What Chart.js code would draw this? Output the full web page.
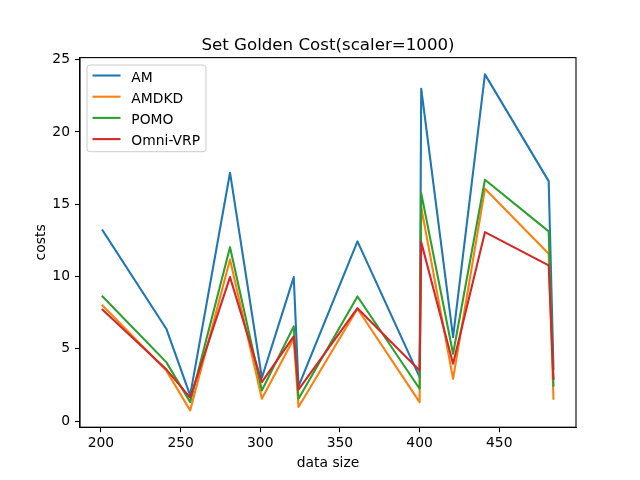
<!DOCTYPE html>
<html>
<head>
<meta charset="utf-8">
<script src="https://cdn.jsdelivr.net/npm/chart.js@4"></script>
<style>
  body { margin: 0; background: #fff; }
  canvas { display: block; }
</style>
</head>
<body>
<canvas id="chart" width="640" height="480"></canvas>
<script>
// data size of each Golden instance (sorted)
const sizes = [201, 241, 256, 281, 301, 321, 324, 361, 400, 401, 421, 441, 481, 484];

// costs (scaler = 1000)
const amCost    = [13.19, 6.39, 1.78, 17.18, 3.00, 9.96, 2.40, 12.43, 3.04, 22.99, 5.81, 23.98, 16.60, 3.62];
const amdkdCost = [8.00, 3.50, 0.74, 11.18, 1.55, 5.70, 0.97, 7.77, 1.31, 14.80, 2.93, 16.07, 11.58, 1.55];
const pomoCost  = [8.62, 4.08, 1.31, 12.03, 2.12, 6.55, 1.55, 8.62, 2.24, 15.77, 4.66, 16.69, 13.12, 2.47];
const omniCost  = [7.70, 3.58, 1.62, 9.96, 2.70, 5.86, 2.17, 7.81, 3.50, 12.38, 3.97, 13.07, 10.77, 2.93];

const seriesNames = ["AM", "AMDKD", "POMO", "Omni-VRP"];
const seriesColors = ["#1f77b4", "#ff7f0e", "#2ca02c", "#d62728"];
const seriesValues = [amCost, amdkdCost, pomoCost, omniCost];

const xTicks = [200, 250, 300, 350, 400, 450];
const yTicks = [0, 5, 10, 15, 20, 25];

const FONT = "DejaVu Sans";

// =======================
// AXIS LIMITS (matplotlib style 5% margin)
// =======================
function paddedRange(arr) {
    const lo = Math.min(...arr);
    const hi = Math.max(...arr);
    const m = (hi - lo) * 0.05;
    return [lo - m, hi + m];
}

const xRange = paddedRange(sizes);
const yRange = paddedRange([].concat(...seriesValues));

// =======================
// DATASETS
// =======================
const datasets = seriesNames.map((name, i) => ({
    label: name,
    data: sizes.map((s, k) => ({ x: s, y: seriesValues[i][k] })),
    borderColor: seriesColors[i],
    backgroundColor: seriesColors[i],
    borderWidth: 2.1,
    borderJoinStyle: "round",
    borderCapStyle: "square",
    showLine: true,
    pointRadius: 0,
    tension: 0,
    order: seriesNames.length - i
}));

// =======================
// TEXT, FRAME, LEGEND
// =======================
const decorPlugin = {
    id: "decor",
    afterDatasetsDraw(chart) {
        const ctx = chart.ctx;
        const a = chart.chartArea;
        ctx.save();

        // frame
        ctx.strokeStyle = "#000";
        ctx.lineWidth = 1.1;
        ctx.strokeRect(a.left, a.top, a.right - a.left, a.bottom - a.top);

        // title
        ctx.fillStyle = "#000";
        ctx.textAlign = "center";
        ctx.textBaseline = "alphabetic";
        ctx.font = "16.67px '" + FONT + "'";
        ctx.fillText("Set Golden Cost(scaler=1000)", (a.left + a.right) / 2, 50);

        // axis labels
        ctx.font = "13.89px '" + FONT + "'";
        ctx.fillText("data size", (a.left + a.right) / 2, 466.7);
        ctx.save();
        ctx.translate(45, (a.top + a.bottom) / 2);
        ctx.rotate(-Math.PI / 2);
        ctx.fillText("costs", 0, 0);
        ctx.restore();

        // legend
        const bx = 87, by = 65, bw = 119, bh = 86.7, r = 3;
        ctx.beginPath();
        ctx.moveTo(bx + r, by);
        ctx.arcTo(bx + bw, by, bx + bw, by + bh, r);
        ctx.arcTo(bx + bw, by + bh, bx, by + bh, r);
        ctx.arcTo(bx, by + bh, bx, by, r);
        ctx.arcTo(bx, by, bx + bw, by, r);
        ctx.closePath();
        ctx.fillStyle = "rgba(255,255,255,0.8)";
        ctx.fill();
        ctx.strokeStyle = "#cccccc";
        ctx.lineWidth = 1;
        ctx.stroke();

        ctx.textAlign = "left";
        seriesNames.forEach((name, i) => {
            const ly = 75.5 + i * 21.2;
            ctx.beginPath();
            ctx.moveTo(92.5, ly);
            ctx.lineTo(120.5, ly);
            ctx.strokeStyle = seriesColors[i];
            ctx.lineWidth = 2.1;
            ctx.stroke();
            ctx.fillStyle = "#000";
            ctx.fillText(name, 131.3, ly + 6.2);
        });

        ctx.restore();
    }
};

// =======================
// CHART
// =======================
Chart.defaults.font.family = FONT;
Chart.defaults.font.size = 13.89;
Chart.defaults.color = "#000";

new Chart(document.getElementById("chart"), {
    type: "scatter",
    data: { datasets },
    options: {
        responsive: false,
        animation: false,
        devicePixelRatio: 1,
        layout: { padding: { left: 0, right: 64, top: 57.6, bottom: 0 } },
        plugins: {
            legend: { display: false },
            title: { display: false },
            tooltip: { enabled: false }
        },
        scales: {
            x: {
                type: "linear",
                min: xRange[0],
                max: xRange[1],
                afterBuildTicks: s => { s.ticks = xTicks.map(v => ({ value: v })); },
                afterFit: s => { s.height = 52.8; },
                grid: {
                    drawOnChartArea: false,
                    drawTicks: true,
                    tickLength: 5,
                    tickColor: "#000",
                    tickWidth: 1.1
                },
                border: { display: true, color: "#000", width: 1.1 },
                ticks: { padding: 3, maxRotation: 0, color: "#000" }
            },
            y: {
                type: "linear",
                min: yRange[0],
                max: yRange[1],
                afterBuildTicks: s => { s.ticks = yTicks.map(v => ({ value: v })); },
                afterFit: s => { s.width = 80; },
                grid: {
                    drawOnChartArea: false,
                    drawTicks: true,
                    tickLength: 5,
                    tickColor: "#000",
                    tickWidth: 1.1
                },
                border: { display: true, color: "#000", width: 1.1 },
                ticks: { padding: 5, color: "#000" }
            }
        }
    },
    plugins: [decorPlugin]
});
</script>
</body>
</html>
